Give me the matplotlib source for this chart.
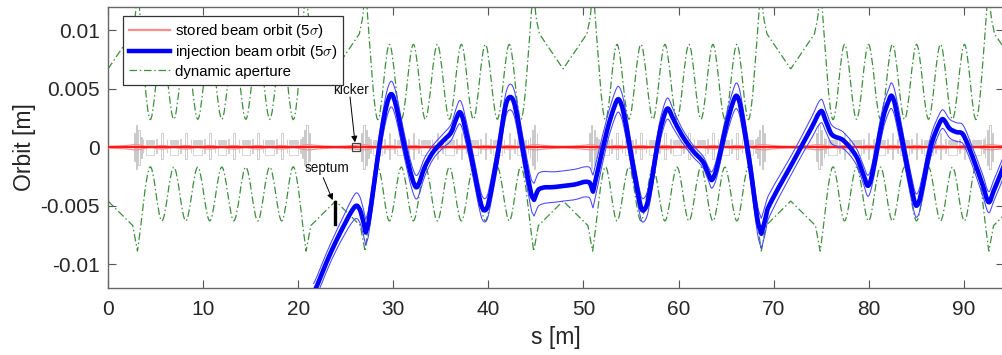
import numpy as np
import matplotlib
matplotlib.use('Agg')
import matplotlib.pyplot as plt
from matplotlib.path import Path
from matplotlib.patches import PathPatch
from matplotlib.lines import Line2D

plt.rcParams['font.family'] = ['Liberation Sans', 'DejaVu Sans']
plt.rcParams['mathtext.fontset'] = 'cm'

# ring is built from identical superperiods, straight section centres [m]
straight_centres = [0.0, 23.93, 47.86, 71.79, 95.72]

# dynamic aperture inside one superperiod (s from straight centre)
da_up_s = [0.0, 2.5, 2.95, 3.12, 3.3, 4.40, 5.66, 6.92, 8.18, 9.44, 10.70, 11.97,
           13.23, 14.49, 15.75, 17.01, 18.27, 19.53, 20.63, 20.81, 20.98, 21.43]
da_up = [0.0067, 0.0097, 0.0120, 0.0160, 0.0120, 0.0024, 0.0088, 0.0024, 0.0088, 0.0024,
         0.0088, 0.0024, 0.0088, 0.0024, 0.0088, 0.0024, 0.0088, 0.0024, 0.0120, 0.0160,
         0.0120, 0.0097]
da_up_corners = [0.0, 2.5, 21.43]
da_lo_s = [0.0, 2.6, 3.1, 4.40, 5.66, 6.92, 8.18, 9.44, 10.70, 11.97, 13.23, 14.49,
           15.75, 17.01, 18.27, 19.53, 20.83, 21.33]
da_lo = [-0.0046, -0.0067, -0.0089, -0.0017, -0.0063, -0.0017, -0.0063, -0.0017, -0.0063,
         -0.0017, -0.0063, -0.0017, -0.0063, -0.0017, -0.0063, -0.0017, -0.0089, -0.0067]
da_lo_corners = [0.0, 2.6, 3.1, 20.83, 21.33]

# stored beam 5 sigma half size inside one superperiod
sb_s = [0.0, 1.8, 3.0, 4.40, 5.66, 6.92, 8.18, 9.44, 10.70, 11.97, 13.23, 14.49, 15.75,
        17.01, 18.27, 19.53, 20.93, 22.13]
sb_env = [0.00007, 0.00014, 0.00022, 0.00004, 0.00015, 0.00004, 0.00015, 0.00004, 0.00015,
          0.00004, 0.00015, 0.00004, 0.00015, 0.00004, 0.00015, 0.00004, 0.00022, 0.00014]

# lattice of one superperiod: dipole centres, arc quads, triplet (start, length, half height)
dipoles = [4.40, 6.92, 9.44, 11.97, 14.49, 17.01, 19.53]
arc_quads = [5.66, 8.18, 10.70, 13.23, 15.75, 18.27]
triplet = [(2.70, 0.10, 0.0012), (2.92, 0.14, 0.0019), (3.20, 0.12, 0.0015), (3.45, 0.08, 0.0009)]

# injected beam orbit and 5 sigma half size
inj_s = [21.6, 22.0, 23.0, 24.0, 25.0, 25.6, 26.15, 26.6, 27.1, 27.4, 28.0, 28.7, 29.3, 29.8,
         30.3, 31.2, 32.0, 32.5, 33.3, 34.2, 35.3, 36.1, 36.6, 37.0, 37.4, 38.3, 39.2, 39.6,
         40.0, 41.0, 41.8, 42.3, 42.8, 43.8, 44.5, 44.8, 45.3, 47.0, 49.0, 50.6, 51.0, 51.5,
         52.5, 53.3, 53.7, 54.2, 55.3, 56.0, 56.3, 56.8, 58.0, 58.6, 58.9, 59.4, 60.3, 61.5,
         62.6, 63.2, 63.5, 64.0, 65.0, 65.7, 66.1, 66.5, 67.5, 68.3, 68.7, 69.1, 69.4, 72.2,
         74.0, 75.0, 75.5, 76.1, 77.3, 78.7, 79.5, 79.9, 80.3, 81.5, 82.1, 82.4, 82.8, 84.0,
         84.7, 85.0, 85.4, 86.5, 87.4, 87.8, 88.5, 89.2, 89.9, 90.9, 92.0, 92.6, 93.1, 94.4]
inj_x = [-0.0125, -0.0118, -0.0098, -0.0080, -0.0064, -0.0055, -0.0050, -0.0056, -0.0073,
         -0.0064, -0.0030, 0.0010, 0.0036, 0.00455, 0.0035, 0.0000, -0.0027, -0.0034, -0.0017,
         -0.0004, 0.0006, 0.0013, 0.0024, 0.0030, 0.0022, -0.0012, -0.0048, -0.0054, -0.0048,
         -0.0005, 0.0035, 0.0043, 0.0035, -0.0010, -0.0040, -0.0045, -0.0036, -0.0034, -0.0032,
         -0.0030, -0.0038, -0.0020, 0.0015, 0.0036, 0.0041, 0.0030, -0.0020, -0.0050, -0.0054,
         -0.0045, 0.0012, 0.0030, 0.0033, 0.0025, 0.0011, -0.0003, -0.0013, -0.0024, -0.0028,
         -0.0018, 0.0018, 0.0038, 0.0044, 0.0035, -0.0015, -0.0062, -0.0074, -0.0062, -0.0052,
         -0.0010, 0.0017, 0.0031, 0.0022, 0.0011, 0.0006, -0.0008, -0.0025, -0.0033, -0.0025,
         0.0025, 0.0040, 0.0044, 0.0035, -0.0015, -0.0043, -0.0050, -0.0043, 0.0000, 0.0020,
         0.0024, 0.0016, 0.0013, 0.0011, -0.0008, -0.0033, -0.0047, -0.0038, -0.0012]
inj_env = [0.0008, 0.0008, 0.0008, 0.0008, 0.0009, 0.0010, 0.0011, 0.0011, 0.0011,
           0.0011, 0.0010, 0.0010, 0.0011, 0.0011, 0.0011, 0.0010, 0.0010, 0.0010, 0.0008,
           0.0006, 0.0006, 0.0007, 0.0009, 0.0010, 0.0010, 0.0010, 0.0010, 0.0010, 0.0010,
           0.0010, 0.0010, 0.0011, 0.0011, 0.0011, 0.0013, 0.0014, 0.0014, 0.0013, 0.0013,
           0.0013, 0.0014, 0.0013, 0.0011, 0.0011, 0.0011, 0.0011, 0.0010, 0.0010, 0.0010,
           0.0010, 0.0009, 0.0009, 0.0009, 0.0008, 0.0006, 0.0005, 0.0005, 0.0006, 0.0007,
           0.0008, 0.0009, 0.0010, 0.0011, 0.0011, 0.0011, 0.0012, 0.0013, 0.0012, 0.0010,
           0.0008, 0.0009, 0.0010, 0.0009, 0.0008, 0.0007, 0.0007, 0.0008, 0.0009, 0.0009,
           0.0010, 0.0010, 0.0011, 0.0011, 0.0010, 0.0010, 0.0010, 0.0010, 0.0009, 0.0008,
           0.0008, 0.0008, 0.0008, 0.0008, 0.0008, 0.0009, 0.0009, 0.0009, 0.0009]
inj_corners = [27.1, 44.8, 51.0, 68.7]

kicker_s = 26.1
septum_s = 23.87
septum_x = [-0.0047, -0.0066]

xticks = [0, 10, 20, 30, 40, 50, 60, 70, 80, 90]
yticks = [-0.01, -0.005, 0, 0.005, 0.01]
ytick_labels = ['-0.01', '-0.005', '0', '0.005', '0.01']

GREEN = '#3d8f3d'
DASHDOT = (0, (6, 2.2, 1.2, 2.2))


def tile(us, vs, corners=()):
    # repeat a superperiod over the ring
    s_all, v_all, c_all = [], [], []
    for c in straight_centres[:-1]:
        s_all += [c + u for u in us]
        v_all += list(vs)
        c_all += [c + u for u in corners]
    s_all.append(straight_centres[-1])
    v_all.append(vs[0])
    c_all.append(straight_centres[-1])
    return np.array(s_all), np.array(v_all), c_all


def smooth(xs, ys, corners=()):
    # cubic curve through the points, sharp at the corner positions
    xs = np.asarray(xs, float)
    ys = np.asarray(ys, float)
    n = len(xs)
    d = np.diff(ys) / np.diff(xs)
    m = np.empty(n)
    m[1:-1] = (ys[2:] - ys[:-2]) / (xs[2:] - xs[:-2])
    sharp = np.zeros(n, bool)
    sharp[0] = sharp[-1] = True
    for c in corners:
        sharp[np.argmin(np.abs(xs - c))] = True
    verts = [(xs[0], ys[0])]
    codes = [Path.MOVETO]
    for i in range(n - 1):
        h = xs[i + 1] - xs[i]
        m0 = d[i] if sharp[i] else m[i]
        m1 = d[i] if sharp[i + 1] else m[i + 1]
        verts += [(xs[i] + h / 3, ys[i] + m0 * h / 3),
                  (xs[i + 1] - h / 3, ys[i + 1] - m1 * h / 3),
                  (xs[i + 1], ys[i + 1])]
        codes += [Path.CURVE4] * 3
    return Path(verts, codes)


def curve(ax, xs, ys, corners=(), **kw):
    ax.add_patch(PathPatch(smooth(xs, ys, corners), fill=False, **kw))


fig = plt.figure(figsize=(10.03, 3.55), dpi=100)
ax = fig.add_axes([108 / 1003, 67.5 / 355, 896 / 1003, 280.5 / 355])

# lattice (grey)
L = straight_centres[1] - straight_centres[0]
GREY = '#c6c6c6'
for c in straight_centres[:-1]:
    for d in dipoles:
        ax.bar(c + d - 0.45, 0.0005, width=0.9, bottom=0.00015, align='edge',
               color='#d2d2d2', edgecolor=GREY, lw=0.5, zorder=1)
        ax.bar(c + d - 0.45, 0.0007, width=0.9, bottom=-0.0007, align='edge',
               fill=False, edgecolor=GREY, lw=0.5, zorder=1)
        for off in (-0.75, 0.68):
            ax.bar(c + d + off, 0.0012, width=0.07, bottom=-0.0005, align='edge',
                   fill=False, edgecolor=GREY, lw=0.6, zorder=1)
    for q in arc_quads:
        ax.bar(c + q - 0.08, 0.0022, width=0.16, bottom=-0.0010, align='edge',
               fill=False, edgecolor=GREY, lw=0.6, zorder=1)
    for u0, w, h in triplet:
        for start in (c + u0, c + L - u0 - w):
            ax.bar(start, 2 * h, width=w, bottom=-h, align='edge',
                   fill=False, edgecolor='#c0c0c0', lw=0.6, zorder=1)

# dynamic aperture
s_up, v_up, c_up = tile(da_up_s, da_up, da_up_corners)
s_lo, v_lo, c_lo = tile(da_lo_s, da_lo, da_lo_corners)
curve(ax, s_up, v_up, c_up, edgecolor=GREEN, lw=0.9, ls=DASHDOT, zorder=2)
curve(ax, s_lo, v_lo, c_lo, edgecolor=GREEN, lw=0.9, ls=DASHDOT, zorder=2)

# stored beam
s_sb, e_sb, _ = tile(sb_s, sb_env)
curve(ax, s_sb, e_sb, edgecolor='#ff9090', lw=0.9, zorder=3)
curve(ax, s_sb, -e_sb, edgecolor='#ff9090', lw=0.9, zorder=3)
ax.plot([0, 96], [0, 0], color='#ff1a1a', lw=1.6, zorder=3)

# injected beam
inj_x = np.array(inj_x)
inj_env = np.array(inj_env)
curve(ax, inj_s, inj_x + inj_env, inj_corners, edgecolor='#4646ff', lw=0.75, zorder=4)
curve(ax, inj_s, inj_x - inj_env, inj_corners, edgecolor='#4646ff', lw=0.75, zorder=4)
curve(ax, inj_s, inj_x, inj_corners, edgecolor='#0000ff', lw=3.3, zorder=5,
      capstyle='round', joinstyle='round')

# kicker and septum
ax.plot([kicker_s], [0], marker='s', ms=5.5, mfc='none', mec='#444444', mew=0.9, zorder=6)
ax.plot([septum_s, septum_s], septum_x, color='black', lw=2.4, zorder=6)
ax.text(25.55, 0.0049, 'kicker', fontsize=9.8, ha='center', va='center', color='#111111')
ax.annotate('', xy=(25.97, 0.00042), xytext=(25.45, 0.0043),
            arrowprops=dict(arrowstyle='-|>', color='black', lw=0.7, mutation_scale=9,
                            shrinkA=0, shrinkB=0))
ax.text(23.0, -0.00175, 'septum', fontsize=9.8, ha='center', va='center', color='#111111')
ax.annotate('', xy=(23.62, -0.00452), xytext=(22.63, -0.0026),
            arrowprops=dict(arrowstyle='-|>', color='black', lw=0.7, mutation_scale=9,
                            shrinkA=0, shrinkB=0))

ax.set_xlim(0, 896 / 9.51)
ax.set_ylim(-0.012, 0.012)
ax.set_xticks(xticks)
ax.set_yticks(yticks)
ax.set_yticklabels(ytick_labels)
ax.tick_params(direction='in', length=6, width=0.8, top=True, right=True,
               color='#555555', labelcolor='#262626', labelsize=15)
ax.tick_params(axis='x', pad=9)
ax.tick_params(axis='y', pad=6)
for sp in ax.spines.values():
    sp.set_color('#666666')
    sp.set_linewidth(1.0)
ax.set_xlabel('s [m]', fontsize=16.5, color='#262626', labelpad=5)
ax.set_ylabel('Orbit [m]', fontsize=16.5, color='#262626', labelpad=3)

handles = [Line2D([], [], color='#ff8a8a', lw=1.6),
           Line2D([], [], color='#0000ff', lw=3.2),
           Line2D([], [], color=GREEN, lw=0.9, ls=DASHDOT)]
labels = [r'stored beam orbit (5$\sigma$)', r'injection beam orbit (5$\sigma$)',
          'dynamic aperture']
leg = ax.legend(handles, labels, loc='upper left', bbox_to_anchor=(15 / 896, 271.5 / 280.5),
                borderaxespad=0, fancybox=False, edgecolor='#333333', framealpha=1,
                fontsize=10.8, handlelength=2.7, handletextpad=0.35, labelspacing=0.22,
                borderpad=0.4)
leg.get_frame().set_linewidth(0.9)
leg.set_zorder(10)

fig.savefig('out.png', dpi=100)
